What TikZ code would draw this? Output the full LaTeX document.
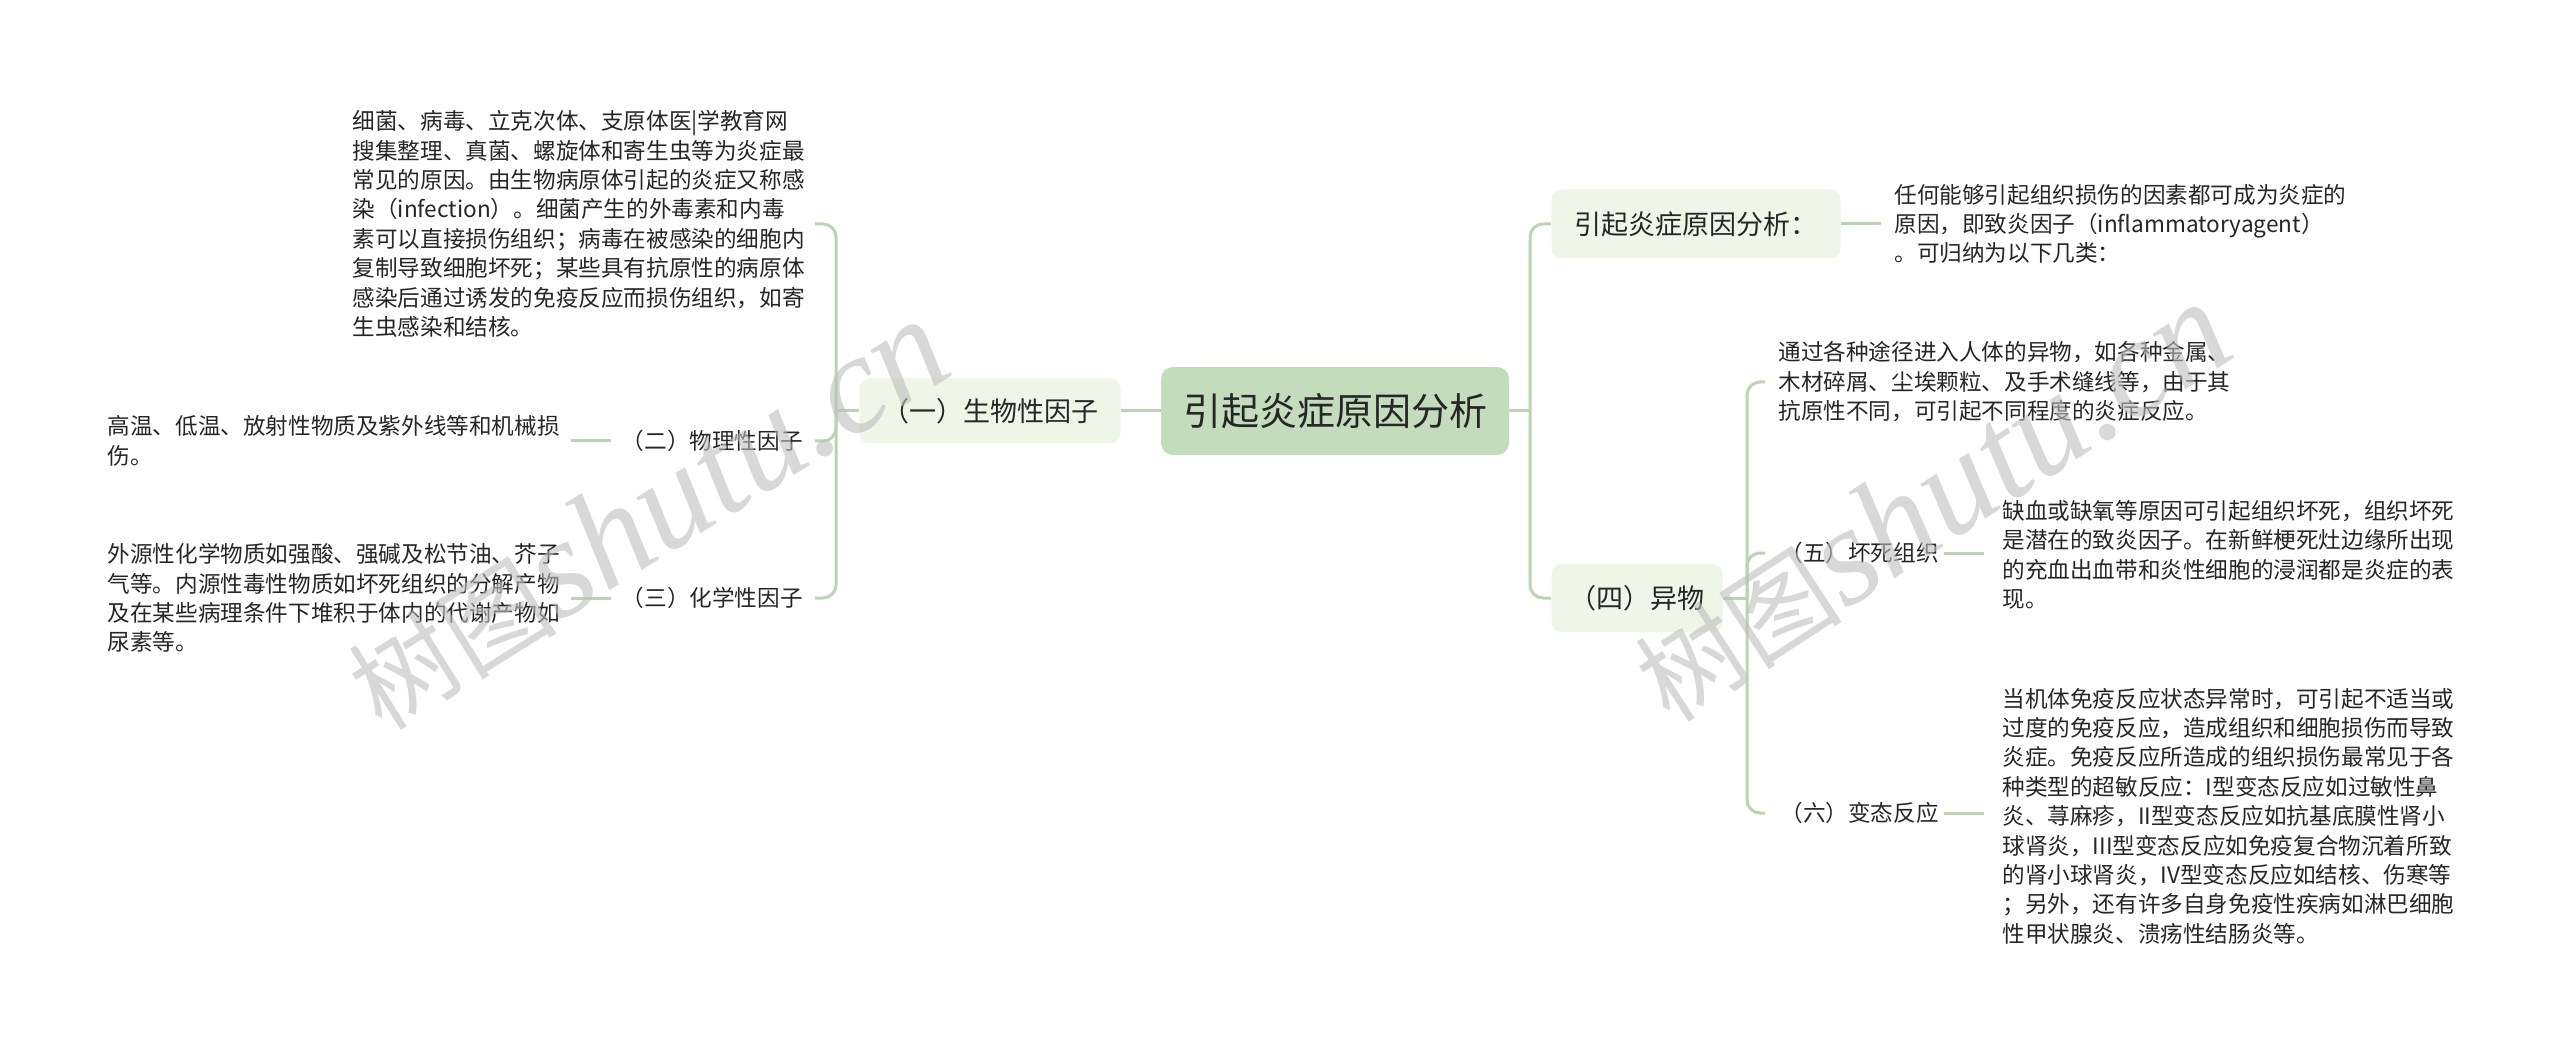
\documentclass[tikz,border=0pt]{standalone}
\usepackage{fontspec}
\setmainfont{Noto Sans CJK SC}
\newfontfamily\wmserif{Liberation Serif}
\definecolor{linec}{RGB}{186,213,177}
\definecolor{rootc}{RGB}{194,220,188}
\definecolor{lonec}{RGB}{239,246,232}
\definecolor{txt}{RGB}{38,38,38}
\definecolor{wmc}{RGB}{190,190,190}
\tikzset{
  conn/.style={draw=linec, line width=1.5pt, rounded corners=6.5pt},
  lone/.style={fill=lonec, rounded corners=5pt, font=\fontsize{13.5pt}{16pt}\selectfont, text=txt, inner sep=0pt},
  small/.style={font=\fontsize{11.3pt}{14.7pt}\selectfont, text=txt, inner sep=0pt, align=left},
  wmark/.style={text=wmc, opacity=0.6, inner sep=0pt},
}
\begin{document}
\begin{tikzpicture}[x=0.5pt,y=-0.5pt]
\fill[white] (0,0) rectangle (2560,1053);
\useasboundingbox (0,0) rectangle (2560,1053);

% root and first level
\node[fill=rootc, rounded corners=6pt, minimum width=174pt, minimum height=44pt, font=\fontsize{19pt}{22pt}\selectfont, text=txt, inner sep=0pt] (root) at (1335,411) {引起炎症原因分析};
\node[lone, minimum width=130.5pt, minimum height=32.5pt] (bio) at (990,411) {（一）生物性因子};
\node[lone, minimum width=144.5pt, minimum height=34.5pt] (cause) at (1696,224) {引起炎症原因分析：};
\node[lone, minimum width=85.5pt, minimum height=34pt] (yiwu) at (1637,598) {（四）异物};

% left side
\node[small, anchor=east] (biotext) at (805,224) {细菌、病毒、立克次体、支原体医|学教育网\\搜集整理、真菌、螺旋体和寄生虫等为炎症最\\常见的原因。由生物病原体引起的炎症又称感\\染（infection）。细菌产生的外毒素和内毒\\素可以直接损伤组织；病毒在被感染的细胞内\\复制导致细胞坏死；某些具有抗原性的病原体\\感染后通过诱发的免疫反应而损伤组织，如寄\\生虫感染和结核。};
\node[small, anchor=east] (phys) at (803,441) {（二）物理性因子};
\node[small, anchor=east] (hot) at (560,441) {高温、低温、放射性物质及紫外线等和机械损\\伤。};
\node[small, anchor=east] (chem) at (803,598) {（三）化学性因子};
\node[small, anchor=east] (chemtext) at (560,598) {外源性化学物质如强酸、强碱及松节油、芥子\\气等。内源性毒性物质如坏死组织的分解产物\\及在某些病理条件下堆积于体内的代谢产物如\\尿素等。};

% right side
\node[small, anchor=west] (causetext) at (1894,224) {任何能够引起组织损伤的因素都可成为炎症的\\原因，即致炎因子（inflammatoryagent）\\。可归纳为以下几类：};
\node[small, anchor=west] (foreign) at (1778,382) {通过各种途径进入人体的异物，如各种金属、\\木材碎屑、尘埃颗粒、及手术缝线等，由于其\\抗原性不同，可引起不同程度的炎症反应。};
\node[small, anchor=west] (necro) at (1780,553) {（五）坏死组织};
\node[small, anchor=west] (necrotext) at (2002,555) {缺血或缺氧等原因可引起组织坏死，组织坏死\\是潜在的致炎因子。在新鲜梗死灶边缘所出现\\的充血出血带和炎性细胞的浸润都是炎症的表\\现。};
\node[small, anchor=west] (allergy) at (1780,813) {（六）变态反应};
\node[small, anchor=west] (allergytext) at (2002,816) {当机体免疫反应状态异常时，可引起不适当或\\过度的免疫反应，造成组织和细胞损伤而导致\\炎症。免疫反应所造成的组织损伤最常见于各\\种类型的超敏反应：I型变态反应如过敏性鼻\\炎、荨麻疹，II型变态反应如抗基底膜性肾小\\球肾炎，III型变态反应如免疫复合物沉着所致\\的肾小球肾炎，IV型变态反应如结核、伤寒等\\；另外，还有许多自身免疫性疾病如淋巴细胞\\性甲状腺炎、溃疡性结肠炎等。};

% junctions
\coordinate (lj) at (836,411);
\coordinate (rj) at (1530,411);
\coordinate (rj2) at (1747,598);

% connectors
\draw[conn] (root.west) -- (bio.east);
\draw[conn] (bio.west) -- (lj);
\draw[conn, shorten >=5pt] (lj) |- (biotext.east);
\draw[conn, shorten >=6pt] (lj) |- (phys.east);
\draw[conn, shorten >=6pt] (lj) |- (chem.east);
\draw[conn, shorten <=5pt, shorten >=5.5pt] (phys.west) -- (hot.east);
\draw[conn, shorten <=5pt, shorten >=5.5pt] (chem.west) -- (chemtext.west -| chemtext.east);

\draw[conn] (root.east) -- (rj);
\draw[conn] (rj) |- (cause.west);
\draw[conn] (rj) |- (yiwu.west);
\draw[conn, shorten >=6.5pt] (cause.east) -- (causetext.west);
\draw[conn] (yiwu.east) -- (rj2);
\draw[conn, shorten >=6.5pt] (rj2) |- (foreign.west);
\draw[conn, shorten >=7.5pt] (rj2) |- (necro.west);
\draw[conn, shorten >=7.5pt] (rj2) |- (allergy.west);
\draw[conn, shorten <=2.5pt, shorten >=9pt] (necro.east) -- (necro.east -| necrotext.west);
\draw[conn, shorten <=2.5pt, shorten >=9pt] (allergy.east) -- (allergy.east -| allergytext.west);

% watermarks
\node[wmark, rotate=32] (wm1) at (647,515) {\fontsize{52pt}{52pt}\selectfont 树图\wmserif\itshape\fontsize{70pt}{70pt}\selectfont shutu.cn};
\node[wmark, rotate=33] (wm2) at (1931,502) {\fontsize{52pt}{52pt}\selectfont 树图\wmserif\itshape\fontsize{70pt}{70pt}\selectfont shutu.cn};
\end{tikzpicture}
\end{document}
